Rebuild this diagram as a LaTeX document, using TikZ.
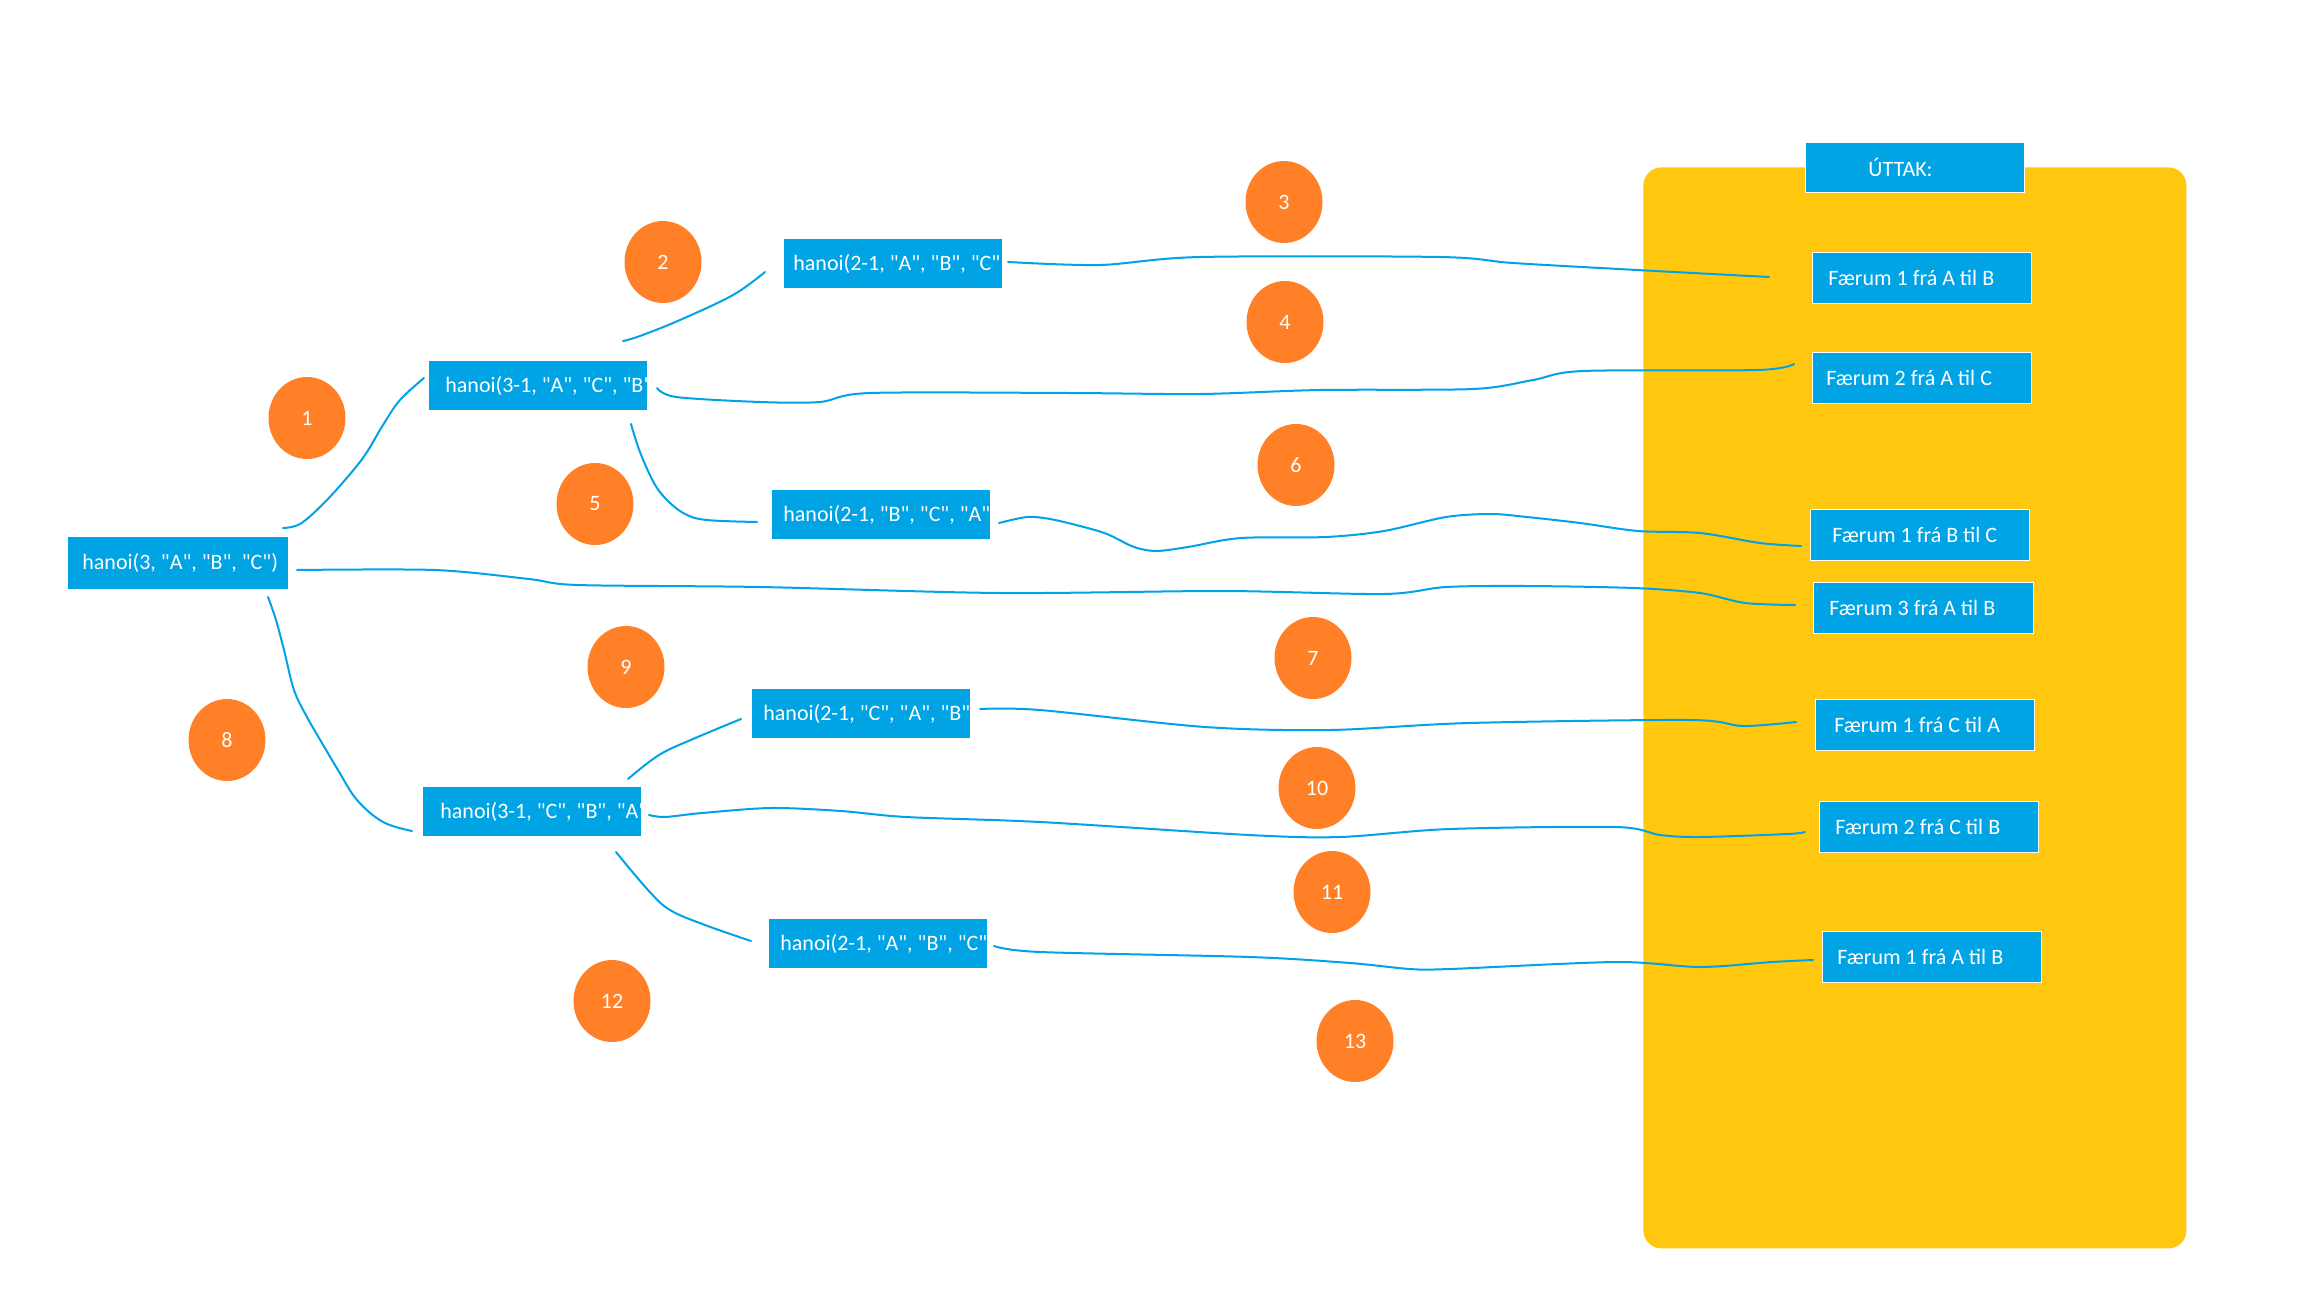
\documentclass[tikz,border=0pt]{standalone}
\usepackage{fontspec}
\setmainfont{Carlito}[Ligatures=TeXOff]
\usetikzlibrary{shapes.geometric}
\definecolor{boxblue}{RGB}{0,163,228}
\definecolor{lineblue}{RGB}{0,162,232}
\definecolor{dotorange}{RGB}{255,128,39}
\definecolor{paneyellow}{RGB}{255,200,14}
\tikzset{
  callrect/.style={rectangle, fill=boxblue, draw=white, line width=0.5pt,
    minimum width=109.5pt, minimum height=25pt, inner sep=0pt},
  calltext/.style={text=white, font=\fontsize{11pt}{13pt}\selectfont, inner sep=0pt},
  dot/.style={ellipse, fill=dotorange, minimum width=38.5pt, minimum height=41pt,
    inner sep=0pt, text=white, font=\fontsize{11pt}{13pt}\selectfont},
  conn/.style={draw=lineblue, line width=1pt, line cap=round, line join=round},
}
\newcommand{\callbox}[5][]{%
  \node[callrect, anchor=north west, #1] (#2) at (#3) {};
  \begin{scope}
    \clip (#2.south west) rectangle (#2.north east);
    \node[calltext, anchor=west] (#2t) at ([xshift=#4]#2.west) {#5};
  \end{scope}}
\begin{document}
\begin{tikzpicture}[x=0.5pt, y=-0.5pt]
\useasboundingbox (0,0) rectangle (2304,1296);
\fill[white] (0,0) rectangle (2304,1296);

% output panel
\node[rectangle, fill=paneyellow, rounded corners=9pt, inner sep=0pt,
  minimum width=271.5pt, minimum height=540.5pt, anchor=north west] (panel) at (1643,167) {};

% call boxes
\callbox[minimum width=110.5pt, minimum height=26.5pt]{root}{67,536}{7.5pt}{hanoi(3, "A", "B", "C")}
\callbox{a}{428,360}{8.5pt}{hanoi(3-1, "A", "C", "B"}
\callbox{b}{783,238}{5pt}{hanoi(2-1, "A", "B", "C"}
\callbox{c}{771,489}{6pt}{hanoi(2-1, "B", "C", "A"}
\callbox{d}{422,786}{9pt}{hanoi(3-1, "C", "B", "A"}
\callbox{e}{751,688}{6pt}{hanoi(2-1, "C", "A", "B"}
\callbox{f}{768,918}{6pt}{hanoi(2-1, "A", "B", "C"}

% output boxes
\callbox{u}{1805,142}{31.5pt}{ÚTTAK:}
\callbox[minimum height=25.5pt]{o1}{1812,252}{8pt}{Færum 1 frá A til B}
\callbox[minimum height=25.5pt]{o2}{1812,352}{7pt}{Færum 2 frá A til C}
\callbox[minimum height=25.5pt]{o3}{1810,509}{11pt}{Færum 1 frá B til C}
\callbox[minimum height=25.5pt, minimum width=110pt]{o4}{1813,582}{8pt}{Færum 3 frá A til B}
\callbox[minimum height=25.5pt]{o5}{1815,699}{9.5pt}{Færum 1 frá C til A}
\callbox[minimum height=25.5pt]{o6}{1819,801}{8pt}{Færum 2 frá C til B}
\callbox[minimum height=25.5pt]{o7}{1822,931}{7.5pt}{Færum 1 frá A til B}

% step numbers
\node[dot] (n1) at (307,418) {1};
\node[dot] (n2) at (663,262) {2};
\node[dot] (n3) at (1284,202) {3};
\node[dot] (n4) at (1285,322) {4};
\node[dot] (n5) at (595,504) {5};
\node[dot] (n6) at (1296,465) {6};
\node[dot] (n7) at (1313,658) {7};
\node[dot] (n8) at (227,740) {8};
\node[dot] (n9) at (626,667) {9};
\node[dot] (n10) at (1317,788) {10};
\node[dot] (n11) at (1332,892) {11};
\node[dot] (n12) at (612,1001) {12};
\node[dot] (n13) at (1355,1041) {13};

% connector end points
\coordinate (c1s) at (283,528);  \coordinate (c1e) at (424,378);
\coordinate (c2s) at (623,341);  \coordinate (c2e) at (765,272);
\coordinate (c3s) at (1008,262); \coordinate (c3e) at (1769,277);
\coordinate (c4s) at (657,388);  \coordinate (c4e) at (1794,364);
\coordinate (c5s) at (631,424);  \coordinate (c5e) at (757,522);
\coordinate (c6s) at (999,523);  \coordinate (c6e) at (1801,546);
\coordinate (c7s) at (297,570);  \coordinate (c7e) at (1795,605);
\coordinate (c8s) at (268,597);  \coordinate (c8e) at (412,831);
\coordinate (c9s) at (628,779);  \coordinate (c9e) at (741,719);
\coordinate (c10s) at (980,709); \coordinate (c10e) at (1796,722);
\coordinate (c11s) at (649,815); \coordinate (c11e) at (1805,832);
\coordinate (c12s) at (616,852); \coordinate (c12e) at (751,941);
\coordinate (c13s) at (994,946); \coordinate (c13e) at (1813,960);

% connectors
\draw[conn] plot[smooth, tension=0.6] coordinates {(c1s) (300,524) (322,505) (345,480) (365,455) (383,425) (400,400) (c1e)};
\draw[conn] plot[smooth, tension=0.6] coordinates {(c2s) (640,336) (680,320) (733,295) (c2e)};
\draw[conn] plot[smooth, tension=0.5] coordinates {(c3s) (1100,265) (1200,257) (1440,257) (1513,263) (1637,270) (c3e)};
\draw[conn] plot[smooth, tension=0.5] coordinates {(c4s) (676,397) (760,402) (820,402) (870,393) (1070,393) (1200,394) (1320,390) (1473,389) (1533,380) (1583,371) (1758,370) (c4e)};
\draw[conn] plot[smooth, tension=0.6] coordinates {(c5s) (640,452) (654,483) (667,500) (685,514) (707,520) (c5e)};
\draw[conn] plot[smooth, tension=0.5] coordinates {(c6s) (1027,517) (1050,519) (1080,526) (1107,534) (1134,547) (1156,551) (1188,547) (1241,538) (1326,537) (1384,531) (1446,517) (1491,514) (1527,517) (1580,523) (1638,531) (1700,533) (1760,543) (c6e)};
\draw[conn] plot[smooth, tension=0.5] coordinates {(c7s) (435,570) (529,579) (578,585) (760,587) (1000,593) (1223,591) (1384,594) (1446,587) (1527,586) (1634,588) (1700,593) (1745,603) (c7e)};
\draw[conn] plot[smooth, tension=0.6] coordinates {(c8s) (276,620) (284,650) (294,690) (307,717) (322,743) (338,770) (357,800) (383,822) (c8e)};
\draw[conn] plot[smooth, tension=0.6] coordinates {(c9s) (659,755) (693,739) (c9e)};
\draw[conn] plot[smooth, tension=0.5] coordinates {(c10s) (1040,710) (1205,727) (1330,730) (1469,723) (1690,720) (1743,726) (c10e)};
\draw[conn] plot[smooth, tension=0.5] coordinates {(c11s) (665,817) (702,813) (771,808) (841,811) (906,817) (1040,822) (1249,835) (1340,837) (1450,829) (1616,827) (1660,835) (1700,837) (1788,834) (c11e)};
\draw[conn] plot[smooth, tension=0.6] coordinates {(c12s) (648,890) (670,910) (705,925) (c12e)};
\draw[conn] plot[smooth, tension=0.5] coordinates {(c13s) (1040,952) (1250,957) (1350,963) (1410,969) (1450,969) (1616,962) (1700,967) (1772,962) (c13e)};
\end{tikzpicture}
\end{document}
